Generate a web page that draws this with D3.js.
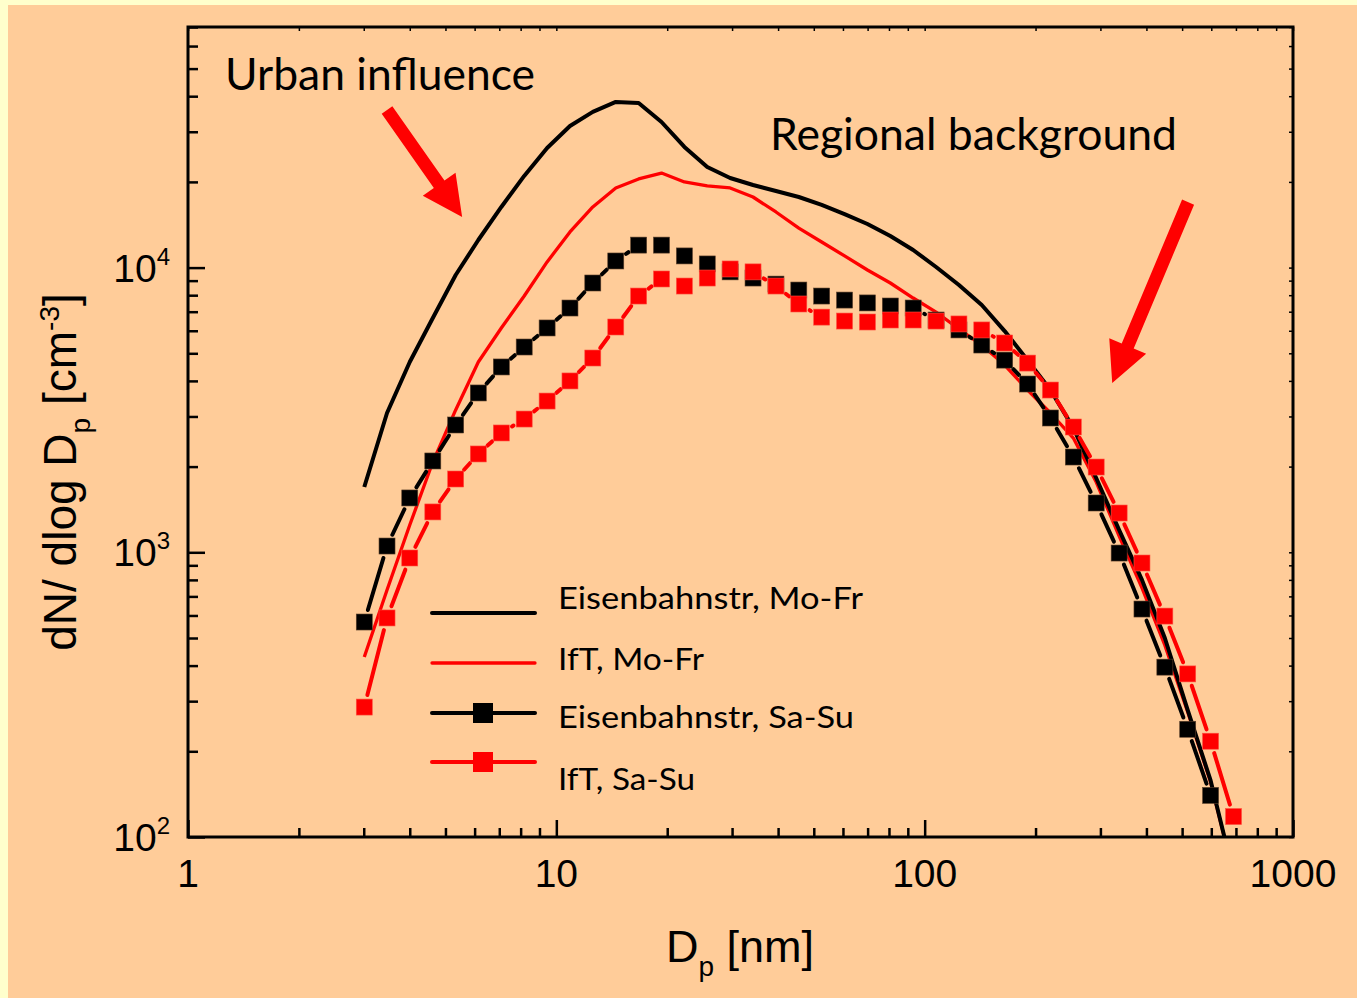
<!DOCTYPE html>
<html>
<head>
<meta charset="utf-8">
<script src="https://cdn.jsdelivr.net/npm/d3@7"></script>
<style>
  html, body { margin: 0; padding: 0; background: #FFFFCC; }
  svg { display: block; }
</style>
</head>
<body>
<script>
// ---------------- DATA ----------------
// particle diameter channels, nm
const diameters = [3.01, 3.47, 4.00, 4.62, 5.33, 6.14, 7.09, 8.18, 9.44, 10.89,
  12.56, 14.50, 16.73, 19.30, 22.27, 25.69, 29.64, 34.20, 39.47, 45.53,
  52.53, 60.61, 69.93, 80.69, 93.07, 107.4, 123.9, 142.9, 164.9, 190.3,
  219.5, 253.3, 292.2, 337.3, 389.0, 448.8, 517.8, 597.4, 689.5];

// dN/dlogDp [cm^-3]
const eisenMoFr = [1696, 3085, 4660, 6650, 9420, 12500, 16330, 20990, 26300, 31420,
  35240, 38200, 37860, 32460, 26540, 22560, 20640, 19500, 18580, 17700,
  16600, 15420, 14230, 12910, 11530, 10050, 8690, 7390, 5985, 4732,
  3715, 2735, 1824, 1197, 800, 500, 279, 158, 74];

const iftMoFr = [429, 737, 1247, 2075, 3162, 4660, 6137, 7945, 10470, 13340,
  16330, 19040, 20480, 21480, 19990, 19350, 19040, 17700, 15680, 13770,
  12300, 10990, 9810, 8829, 7820, 6980, 6085, 5346, 4548, 3715,
  3085, 2520, 1766, 1141, 750, 472, 275, 156, 74];

const eisenSaSu = [569, 1052, 1552, 2093, 2800, 3628, 4477, 5261, 6137, 7211,
  8829, 10550, 11995, 11995, 10990, 10300, 9660, 9190, 8750, 8340,
  7945, 7690, 7515, 7330, 7211, 6545, 6040, 5346, 4732, 3900,
  2963, 2161, 1490, 994, 632, 395, 239, 140];

const iftSaSu = [286, 588, 955, 1386, 1809, 2215, 2625, 2938, 3398, 3998,
  4813, 6185, 7945, 9120, 8615, 9190, 9890, 9660, 8615, 7450,
  6700, 6490, 6440, 6545, 6545, 6490, 6340, 6040, 5435, 4620,
  3715, 2755, 1993, 1374, 917, 597, 374, 217, 118];

const seriesNames = ["Eisenbahnstr, Mo-Fr", "IfT, Mo-Fr", "Eisenbahnstr, Sa-Su", "IfT, Sa-Su"];
const seriesColors = ["#000000", "#FF0000", "#000000", "#FF0000"];

const xTickValues = [1, 10, 100, 1000];
const xTickLabels = ["1", "10", "100", "1000"];
const yTickValues = [100, 1000, 10000];
const yTickExponents = ["2", "3", "4"];

const annotationTexts = ["Urban influence", "Regional background"];
// arrows in data coordinates [Dp, dN/dlogDp]
const urbanArrow = { from: [3.47, 35800], to: [5.55, 15070] };
const regionalArrow = { from: [519, 16980], to: [323, 3936] };

// ---------------- LAYOUT ----------------
const W = 1357, H = 998;
const L = 188, T = 27, R = 1293, B = 837;
const labelFont = "'Liberation Sans', Arial, sans-serif";
const textFont = "Lato, 'Open Sans', sans-serif";

const svg = d3.select("body").append("svg").attr("width", W).attr("height", H);
svg.append("rect").attr("x", 0).attr("y", 0).attr("width", W).attr("height", H).attr("fill", "#FFFFCC");
svg.append("rect").attr("x", 8).attr("y", 5).attr("width", W - 8).attr("height", H - 5).attr("fill", "#FFCC99");

const x = d3.scaleLog().domain([1, 1000]).range([L, R]);
const y = d3.scaleLog().domain([100, 70000]).range([B, T]);

svg.append("defs").append("clipPath").attr("id", "plotclip")
  .append("rect").attr("x", L).attr("y", T).attr("width", R - L).attr("height", B - T);

const isPow10 = v => Math.abs(Math.log10(v) - Math.round(Math.log10(v))) < 1e-9;
const xMinor = x.ticks().filter(v => !isPow10(v));
const yMinor = y.ticks().filter(v => !isPow10(v));

function styleAxis(g, w) {
  g.select(".domain").remove();
  g.selectAll(".tick line").attr("stroke", "#000").attr("stroke-width", w);
  g.selectAll(".tick text").remove();
}

// bottom axis
svg.append("g").attr("transform", `translate(0,${B})`)
  .call(d3.axisBottom(x).tickValues(xMinor).tickSizeInner(-9).tickSizeOuter(0).tickFormat(""))
  .call(g => styleAxis(g, 2.5));
svg.append("g").attr("transform", `translate(0,${B})`)
  .call(d3.axisBottom(x).tickValues(xTickValues).tickSizeInner(-17).tickSizeOuter(0).tickFormat(""))
  .call(g => styleAxis(g, 2.5));
// top axis (small inward ticks)
svg.append("g").attr("transform", `translate(0,${T})`)
  .call(d3.axisTop(x).tickValues(xMinor.concat(xTickValues)).tickSizeInner(-4).tickSizeOuter(0).tickFormat(""))
  .call(g => styleAxis(g, 1.5));
// left axis
svg.append("g").attr("transform", `translate(${L},0)`)
  .call(d3.axisLeft(y).tickValues(yMinor).tickSizeInner(-10).tickSizeOuter(0).tickFormat(""))
  .call(g => styleAxis(g, 2.5));
svg.append("g").attr("transform", `translate(${L},0)`)
  .call(d3.axisLeft(y).tickValues(yTickValues).tickSizeInner(-17).tickSizeOuter(0).tickFormat(""))
  .call(g => styleAxis(g, 2.5));
// right axis (small inward ticks)
svg.append("g").attr("transform", `translate(${R},0)`)
  .call(d3.axisRight(y).tickValues(yMinor.concat(yTickValues)).tickSizeInner(-4).tickSizeOuter(0).tickFormat(""))
  .call(g => styleAxis(g, 1.5));

// x tick labels
svg.append("g").selectAll("text").data(xTickValues).join("text")
  .attr("x", d => x(d)).attr("y", B + 50)
  .attr("text-anchor", "middle")
  .attr("font-family", labelFont).attr("font-size", 39).attr("fill", "#000")
  .text((d, i) => xTickLabels[i]);

// y tick labels 10^n
const yl = svg.append("g").selectAll("text").data(yTickValues).join("text")
  .attr("x", 170).attr("y", d => y(d) + 14)
  .attr("text-anchor", "end")
  .attr("font-family", labelFont).attr("font-size", 39).attr("fill", "#000");
yl.append("tspan").text("10");
yl.append("tspan").attr("font-size", 24).attr("dy", -17).text((d, i) => yTickExponents[i]);

// axis titles
const xt = svg.append("text").attr("x", 740).attr("y", 962)
  .attr("text-anchor", "middle").attr("font-family", labelFont).attr("font-size", 45).attr("fill", "#000");
xt.append("tspan").text("D");
xt.append("tspan").attr("font-size", 28).attr("dy", 14).text("p");
xt.append("tspan").attr("dy", -14).text(" [nm]");

const yt = svg.append("text").attr("transform", "translate(76,472) rotate(-90)")
  .attr("text-anchor", "middle").attr("font-family", labelFont).attr("font-size", 46).attr("fill", "#000");
yt.append("tspan").text("dN/ dlog D");
yt.append("tspan").attr("font-size", 28).attr("dy", 14).text("p");
yt.append("tspan").attr("dy", -14).text(" [cm");
yt.append("tspan").attr("font-size", 28).attr("dy", -17).text("-3");
yt.append("tspan").attr("dy", 17).text("]");

// ---------------- DATA MARKS ----------------
const plot = svg.append("g").attr("clip-path", "url(#plotclip)");
const line = d3.line().x(d => x(d[0])).y(d => y(d[1]));

const zip = arr => arr.map((v, i) => [diameters[i], v]);

plot.append("path").datum(zip(iftMoFr)).attr("d", line)
  .attr("fill", "none").attr("stroke", seriesColors[1]).attr("stroke-width", 3.3).attr("stroke-linejoin", "round");
plot.append("path").datum(zip(eisenMoFr)).attr("d", line)
  .attr("fill", "none").attr("stroke", seriesColors[0]).attr("stroke-width", 4).attr("stroke-linejoin", "round");

function markerSeries(values, color) {
  const pts = zip(values).map(d => [x(d[0]), y(d[1])]);
  const gap = 12.5;
  const segs = [];
  for (let i = 0; i < pts.length - 1; i++) {
    const [x1, y1] = pts[i], [x2, y2] = pts[i + 1];
    const dx = x2 - x1, dy = y2 - y1, len = Math.hypot(dx, dy);
    if (len - 2 * gap > 0.5) {
      const ux = dx / len, uy = dy / len;
      segs.push([x1 + ux * gap, y1 + uy * gap, x2 - ux * gap, y2 - uy * gap]);
    }
  }
  const g = plot.append("g");
  g.selectAll("line").data(segs).join("line")
    .attr("x1", d => d[0]).attr("y1", d => d[1]).attr("x2", d => d[2]).attr("y2", d => d[3])
    .attr("stroke", color).attr("stroke-width", 4).attr("stroke-linecap", "round");
  g.selectAll("rect").data(zip(values)).join("rect")
    .attr("x", d => x(d[0]) - 8).attr("y", d => y(d[1]) - 8)
    .attr("width", 16).attr("height", 16).attr("fill", color)
    .attr("stroke", color === "#000000" ? "#5a3f2a" : "#ff5040").attr("stroke-width", 0.6);
}
markerSeries(eisenSaSu, seriesColors[2]);
markerSeries(iftSaSu, seriesColors[3]);

// frame
svg.append("rect").attr("x", L).attr("y", T).attr("width", R - L).attr("height", B - T)
  .attr("fill", "none").attr("stroke", "#000").attr("stroke-width", 3);

// ---------------- LEGEND ----------------
const legendLineY = [613, 663, 713, 762];
const legendTextY = [609, 670, 728, 790];
const legendTextLen = [305, 146, 296, 137];
const lg = svg.append("g");
seriesNames.forEach((name, i) => {
  lg.append("line").attr("x1", 432).attr("x2", 535).attr("y1", legendLineY[i]).attr("y2", legendLineY[i])
    .attr("stroke", seriesColors[i]).attr("stroke-width", i === 1 ? 3.3 : 4).attr("stroke-linecap", "round");
  if (i >= 2) {
    lg.append("rect").attr("x", 483 - 10).attr("y", legendLineY[i] - 10).attr("width", 20).attr("height", 20)
      .attr("fill", seriesColors[i]);
  }
  lg.append("text").attr("x", 558).attr("y", legendTextY[i])
    .attr("font-family", textFont).attr("font-size", 30).attr("fill", "#000")
    .attr("textLength", legendTextLen[i]).attr("lengthAdjust", "spacingAndGlyphs")
    .text(name);
});

// ---------------- ANNOTATIONS ----------------
svg.append("text").attr("x", 225).attr("y", 90)
  .attr("font-family", textFont).attr("font-size", 44).attr("fill", "#000")
  .attr("textLength", 310).attr("lengthAdjust", "spacingAndGlyphs").text(annotationTexts[0]);
svg.append("text").attr("x", 770).attr("y", 150)
  .attr("font-family", textFont).attr("font-size", 44).attr("fill", "#000")
  .attr("textLength", 407).attr("lengthAdjust", "spacingAndGlyphs").text(annotationTexts[1]);

function arrow(a) {
  const sx = x(a.from[0]), sy = y(a.from[1]), tx = x(a.to[0]), ty = y(a.to[1]);
  const dx = tx - sx, dy = ty - sy, len = Math.hypot(dx, dy);
  const ux = dx / len, uy = dy / len, nx = -uy, ny = ux;
  const sw = 6.5, hw = 20, hl = 40;
  const bx = tx - ux * hl, by = ty - uy * hl;
  const p = [
    [sx + nx * sw, sy + ny * sw], [bx + nx * sw, by + ny * sw], [bx + nx * hw, by + ny * hw],
    [tx, ty], [bx - nx * hw, by - ny * hw], [bx - nx * sw, by - ny * sw], [sx - nx * sw, sy - ny * sw]
  ];
  svg.append("polygon").attr("points", p.map(q => q.join(",")).join(" ")).attr("fill", "#FF0000");
}
arrow(urbanArrow);
arrow(regionalArrow);
</script>
</body>
</html>
